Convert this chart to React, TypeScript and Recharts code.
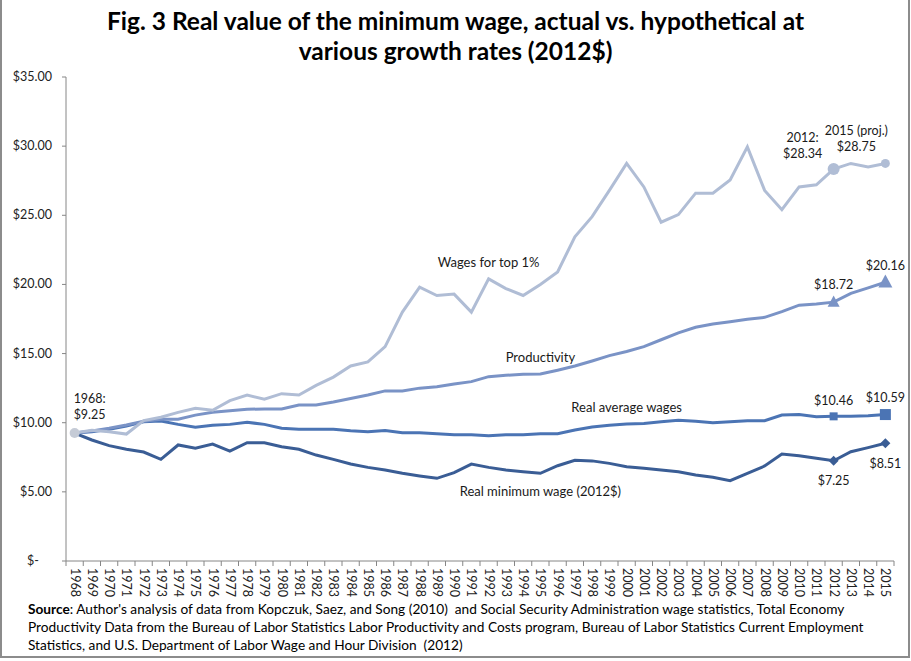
import React from 'react';
import { LineChart, Line, XAxis, YAxis, ReferenceDot } from 'recharts';

const years = ['1968','1969','1970','1971','1972','1973','1974','1975','1976','1977','1978','1979','1980','1981','1982','1983','1984','1985','1986','1987','1988','1989','1990','1991','1992','1993','1994','1995','1996','1997','1998','1999','2000','2001','2002','2003','2004','2005','2006','2007','2008','2009','2010','2011','2012','2013','2014','2015'];

const top1 = [9.25, 9.45, 9.35, 9.18, 10.15, 10.4, 10.75, 11.05, 10.9, 11.6,
  12.0, 11.7, 12.1, 12.0, 12.7, 13.3, 14.1, 14.4, 15.5, 18.0,
  19.8, 19.2, 19.3, 18.0, 20.4, 19.7, 19.2, 20.0, 20.9, 23.45,
  24.9, 26.8, 28.75, 27.05, 24.5, 25.05, 26.6, 26.6, 27.55, 29.95,
  26.8, 25.4, 27.05, 27.2, 28.34, 28.75, 28.5, 28.75];

const productivity = [9.25, 9.4, 9.6, 9.83, 10.1, 10.25, 10.25, 10.55, 10.75, 10.87,
  10.97, 11.0, 11.0, 11.28, 11.28, 11.5, 11.75, 12.0, 12.3, 12.3,
  12.5, 12.6, 12.8, 12.97, 13.33, 13.43, 13.5, 13.52, 13.8, 14.1,
  14.46, 14.85, 15.15, 15.5, 16.0, 16.5, 16.9, 17.14, 17.3, 17.48,
  17.62, 18.03, 18.5, 18.58, 18.72, 19.35, 19.75, 20.16];

const avgWage = [9.25, 9.35, 9.52, 9.76, 10.07, 10.12, 9.88, 9.67, 9.81, 9.88,
  10.03, 9.88, 9.6, 9.52, 9.52, 9.52, 9.42, 9.35, 9.43, 9.28,
  9.28, 9.2, 9.13, 9.13, 9.06, 9.13, 9.13, 9.2, 9.2, 9.47,
  9.69, 9.81, 9.9, 9.95, 10.07, 10.17, 10.1, 10.0, 10.07, 10.15,
  10.15, 10.56, 10.6, 10.43, 10.46, 10.47, 10.5, 10.59];

const minWage = [9.25, 8.75, 8.34, 8.08, 7.88, 7.35, 8.39, 8.15, 8.46, 7.95,
  8.55, 8.55, 8.26, 8.08, 7.66, 7.35, 7.01, 6.77, 6.58, 6.34,
  6.15, 5.98, 6.39, 7.01, 6.77, 6.58, 6.46, 6.34, 6.89, 7.28,
  7.24, 7.06, 6.82, 6.7, 6.58, 6.46, 6.22, 6.05, 5.81, 6.34,
  6.87, 7.74, 7.61, 7.43, 7.25, 7.9, 8.2, 8.51];

const yTicks = [0, 5, 10, 15, 20, 25, 30, 35];

const seriesLabels = [
  { year: '1992', value: 21.6, text: 'Wages for top 1%' },
  { year: '1995', value: 14.75, text: 'Productivity' },
  { year: '2000', value: 11.13, text: 'Real average wages' },
  { year: '1995', value: 5.06, text: 'Real minimum wage (2012$)' },
];

const COLORS: Record<string, string> = {
  top1: '#B0BDD5',
  productivity: '#7A93C6',
  avg: '#4B74B4',
  min: '#3A5D95',
};

const seriesValues: Record<string, number[]> = { top1, productivity, avg: avgWage, min: minWage };

const data = years.map((y, i) => ({
  year: y,
  top1: top1[i],
  productivity: productivity[i],
  avg: avgWage[i],
  min: minWage[i],
}));

type Marker = { shape: string; size: number; color?: string };
const markers: Record<string, Record<number, Marker>> = {
  top1: { 0: { shape: 'circle', size: 5, color: '#C5CBD6' }, 44: { shape: 'circle', size: 6 }, 47: { shape: 'circle', size: 4.5 } },
  productivity: { 44: { shape: 'triangle', size: 6 }, 47: { shape: 'triangle', size: 7 } },
  avg: { 44: { shape: 'square', size: 4 }, 47: { shape: 'square', size: 5.5 } },
  min: { 44: { shape: 'diamond', size: 5 }, 47: { shape: 'diamond', size: 5 } },
};

type Note = { key: string; idx: number; lines: string[]; dx: number; dy: number[]; anchor: 'start' | 'middle' | 'end' };
const notes: Note[] = [
  { key: 'top1', idx: 0, lines: ['1968:', '$9.25'], dx: -1, dy: [-35, -19], anchor: 'start' },
  { key: 'top1', idx: 44, lines: ['2012:', '$28.34'], dx: -31, dy: [-32, -16], anchor: 'middle' },
  { key: 'top1', idx: 47, lines: ['2015 (proj.)', '$28.75'], dx: -29, dy: [-33, -17], anchor: 'middle' },
  { key: 'productivity', idx: 44, lines: ['$18.72'], dx: 0, dy: [-18], anchor: 'middle' },
  { key: 'productivity', idx: 47, lines: ['$20.16'], dx: 0, dy: [-17], anchor: 'middle' },
  { key: 'avg', idx: 44, lines: ['$10.46'], dx: 0, dy: [-16], anchor: 'middle' },
  { key: 'avg', idx: 47, lines: ['$10.59'], dx: 0, dy: [-17], anchor: 'middle' },
  { key: 'min', idx: 44, lines: ['$7.25'], dx: 0, dy: [20], anchor: 'middle' },
  { key: 'min', idx: 47, lines: ['$8.51'], dx: 0, dy: [20], anchor: 'middle' },
];

const FONT = 'Lato, Calibri, "Open Sans", sans-serif';
const AXIS = '#868686';
const HALF_BAND = 828 / 48 / 2;
const DOT_R = 1;

function drawShape(m: Marker, cx: number, cy: number, color: string) {
  const c = m.color || color;
  const s = m.size;
  if (m.shape === 'circle') return <circle cx={cx} cy={cy} r={s} fill={c} stroke="none" />;
  if (m.shape === 'triangle')
    return <polygon points={`${cx},${cy - s * 1.1} ${cx - s},${cy + s * 0.75} ${cx + s},${cy + s * 0.75}`} fill={c} />;
  if (m.shape === 'square') return <rect x={cx - s} y={cy - s} width={2 * s} height={2 * s} fill={c} />;
  return <polygon points={`${cx},${cy - s} ${cx + s},${cy} ${cx},${cy + s} ${cx - s},${cy}`} fill={c} />;
}

const makeDot = (key: string) => (props: any) => {
  const { cx, cy, index } = props;
  const m = markers[key][index];
  if (!m) return <g key={`${key}-${index}`} />;
  return <g key={`${key}-${index}`}>{drawShape(m, cx, cy, COLORS[key])}</g>;
};

const NoteLabel = (props: any) => {
  const { viewBox, note } = props;
  if (!viewBox) return null;
  const cx = viewBox.x + (viewBox.width || 0) / 2;
  const cy = viewBox.y + (viewBox.height || 0) / 2;
  const n: Note = note;
  return (
    <g>
      {n.lines.map((t, j) => (
        <text key={j} x={cx + n.dx} y={cy + n.dy[j]} textAnchor={n.anchor}
          dominantBaseline="central" fontSize={12.5} fontFamily={FONT} fill="#1a1a1a">
          {t}
        </text>
      ))}
    </g>
  );
};

const XTick = (props: any) => {
  const { x, y, payload } = props;
  const last = payload.value === years[years.length - 1];
  return (
    <g>
      <line x1={x - HALF_BAND} x2={x - HALF_BAND} y1={y} y2={y + 5} stroke={AXIS} />
      {last && <line x1={x + HALF_BAND} x2={x + HALF_BAND} y1={y} y2={y + 5} stroke={AXIS} />}
      <text transform={`translate(${x},${y + 7}) rotate(90)`} x={0} y={4} textAnchor="start"
        fontSize={12.5} fontFamily={FONT} fill="#222">
        {payload.value}
      </text>
    </g>
  );
};

const YTick = (props: any) => {
  const { x, y, payload } = props;
  const v = payload.value as number;
  const label = v === 0 ? '$-' : `$${v.toFixed(2)}`;
  return (
    <text x={v === 0 ? x - 13 : x} y={y} dy={4} textAnchor="end" fontSize={12.5} fontFamily={FONT} fill="#222">
      {label}
    </text>
  );
};

export default function App() {
  return (
    <div style={{ position: 'absolute', left: 0, top: 0, width: 911, height: 661, background: '#fff', fontFamily: FONT }}>
      <div style={{ position: 'absolute', left: 0, top: 0, width: 906, height: 656, borderLeft: '2px solid #8c8c8c', borderRight: '2px solid #8c8c8c', borderBottom: '2px solid #8c8c8c' }} />
      <div style={{ position: 'absolute', left: 0, top: 6, width: 911, textAlign: 'center', fontWeight: 700, fontSize: 24.5, lineHeight: '30px', color: '#000' }}>
        Fig. 3 Real value of the minimum wage, actual vs. hypothetical at<br />various growth rates (2012$)
      </div>
      <div style={{ position: 'absolute', left: 0, top: 0 }}>
        <LineChart width={911} height={661} data={data} margin={{ top: 77, right: 17, bottom: 60, left: 6 }}>
          <XAxis dataKey="year" interval={0} height={40} axisLine={{ stroke: AXIS }} tickLine={false}
            tickSize={0} tickMargin={0} tick={<XTick />} padding={{ left: HALF_BAND, right: HALF_BAND }} />
          <YAxis domain={[0, 35]} ticks={yTicks} width={60} axisLine={{ stroke: AXIS }}
            tickLine={{ stroke: AXIS }} tickSize={4} tickMargin={10} tick={<YTick />} />
          <Line dataKey="min" stroke={COLORS.min} strokeWidth={3} dot={makeDot('min')} activeDot={false} isAnimationActive={false} />
          <Line dataKey="avg" stroke={COLORS.avg} strokeWidth={3} dot={makeDot('avg')} activeDot={false} isAnimationActive={false} />
          <Line dataKey="productivity" stroke={COLORS.productivity} strokeWidth={3} dot={makeDot('productivity')} activeDot={false} isAnimationActive={false} />
          <Line dataKey="top1" stroke={COLORS.top1} strokeWidth={3} dot={makeDot('top1')} activeDot={false} isAnimationActive={false} />
          {seriesLabels.map((s) => (
            <ReferenceDot key={s.text} x={s.year} y={s.value} r={DOT_R} fill="none" stroke="none"
              label={{ value: s.text, position: 'center', fontSize: 13, fontFamily: FONT, fill: '#1a1a1a' }} />
          ))}
          {notes.map((n) => (
            <ReferenceDot key={`${n.key}-${n.idx}`} x={years[n.idx]} y={seriesValues[n.key][n.idx]} r={DOT_R}
              fill="none" stroke="none" ifOverflow="visible" label={<NoteLabel note={n} />} />
          ))}
        </LineChart>
      </div>
      <div style={{ position: 'absolute', left: 28, top: 600, fontSize: 13.7, lineHeight: '18px', color: '#000', whiteSpace: 'nowrap' }}>
        <b>Source</b>: Author's analysis of data from Kopczuk, Saez, and Song (2010)&nbsp; and Social Security Administration wage statistics, Total Economy<br />
        Productivity Data from the Bureau of Labor Statistics Labor Productivity and Costs program, Bureau of Labor Statistics Current Employment<br />
        Statistics, and U.S. Department of Labor Wage and Hour Division&nbsp; (2012)
      </div>
    </div>
  );
}
